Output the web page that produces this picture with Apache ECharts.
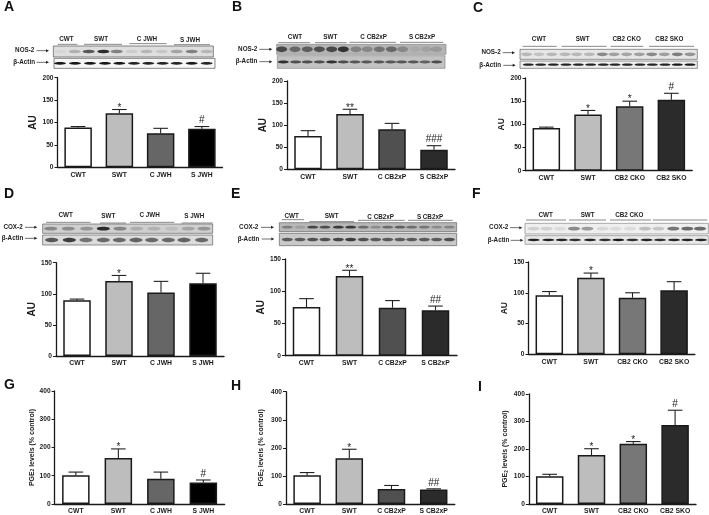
<!DOCTYPE html>
<html><head><meta charset="utf-8">
<style>html,body{margin:0;padding:0;background:#fff}#c{width:709px;height:515px;filter:blur(0.5px)}</style>
<script src="https://cdn.jsdelivr.net/npm/echarts@6/dist/echarts.min.js"></script>
</head><body><div id="c"></div>
<script>
const catsJWH=["CWT","SWT","C JWH","S JWH"];
const catsCB2xP=["CWT","SWT","C CB2xP","S CB2xP"];
const catsCB2=["CWT","SWT","CB2 CKO","CB2 SKO"];

const valuesA=[89,120.5,76,86], capsA=[91,129,87,91], sigA=["","*","","#"];
const valuesB=[75.5,125,90.5,44.5], capsB=[87.5,136,104,53.5], sigB=["","**","","###"];
const valuesC=[92,121,139,153], capsC=[94,130,150,167], sigC=["","*","*","#"];
const valuesD=[89.5,120.5,102,117], capsD=[91.5,129.5,120,133], sigD=["","*","",""];
const valuesE=[75.5,123.5,74.5,70.5], capsE=[88.5,132.5,85.5,77], sigE=["","**","","##"];
const valuesF=[96,124.5,92,104], capsF=[102,132,100,118], sigF=["","*","",""];
const valuesG=[102,163,89,76], capsG=[113,195,113,85], sigG=["","*","","#"];
const valuesH=[102.5,163,53,52], capsH=[112,195,66,54], sigH=["","*","","##"];
const valuesI=[101,178,219,287], capsI=[108,201,227,341], sigI=["","*","*","#"];

const ticks150=150, ticks200=200, ticks400=400;

// blot band strengths, lane by lane
const nosA=[.04,.2,.6,.8,.42,.08,.18,.1,.26,.42,.18];
const actA=[.9,.9,.9,.9,.9,.85,.85,.85,.85,.9,.85];
const nosB=[.6,.42,.48,.55,.6,.72,.28,.25,.36,.42,.25,.06,.1,.14];
const actB=[.75,.6,.6,.6,.75,.6,.55,.55,.55,.55,.55,.55,.5,.6];
const nosC=[.2,.15,.2,.2,.2,.2,.4,.3,.28,.3,.4,.3,.45,.35];
const actC=[.85,.85,.85,.85,.85,.85,.85,.85,.85,.85,.85,.85,.9,.9];
const coxD=[.35,.32,.28,.8,.36,.16,.14,.08,.2,.28];
const actD=[.6,.72,.48,.52,.52,.55,.52,.52,.55,.52];
const coxE=[.32,.14,.62,.58,.68,.68,.42,.24,.42,.48,.4,.36,.24,.28];
const actE=[.55,.55,.6,.6,.65,.7,.6,.55,.55,.55,.55,.55,.55,.6];
const coxF=[.12,.12,.08,.42,.34,.09,.08,.08,.2,.16,.5,.55,.55];
const actF=[.85,.85,.85,.8,.85,.8,.9,.8,.85,.8,.85,.85,.85];

const W="#ffffff",L="#bdbdbd",D1="#666666",K="#000000",D2="#505050",K2="#2b2b2b",M="#777777";
const FONT="'Liberation Sans',Arial,sans-serif";
const panels=[
 {l:"A",lx:4,ly:7,left:57.5,w:165,top:77.7,bot:167.3,max:ticks200,cats:catsJWH,v:valuesA,c:capsA,s:sigA,col:[W,L,D1,K],name:"AU",fs:10,gap:18},
 {l:"B",lx:232,ly:7,left:287,w:168,top:81,bot:169.3,max:ticks200,cats:catsCB2xP,v:valuesB,c:capsB,s:sigB,col:[W,L,D2,K2],name:"AU",fs:10,gap:19},
 {l:"C",lx:473,ly:8,left:525.5,w:166.7,top:78,bot:170.7,max:ticks200,cats:catsCB2,v:valuesC,c:capsC,s:sigC,col:[W,L,M,K2],name:"AU",fs:8.5,gap:18},
 {l:"D",lx:4,ly:194,left:56,w:168,top:262.7,bot:356,max:ticks150,cats:catsJWH,v:valuesD,c:capsD,s:sigD,col:[W,L,D1,K],name:"AU",fs:10,gap:18},
 {l:"E",lx:231,ly:194,left:285,w:172,top:259,bot:355.7,max:ticks150,cats:catsCB2xP,v:valuesE,c:capsE,s:sigE,col:[W,L,D2,K2],name:"AU",fs:10,gap:18},
 {l:"F",lx:472,ly:194,left:528.5,w:166.4,top:262,bot:354.3,max:ticks150,cats:catsCB2,v:valuesF,c:capsF,s:sigF,col:[W,L,M,K2],name:"AU",fs:8.5,gap:17},
 {l:"G",lx:4,ly:385,left:54.6,w:170,top:391,bot:504.7,max:ticks400,cats:catsJWH,v:valuesG,c:capsG,s:sigG,col:[W,L,D1,K],pge:1,gap:19},
 {l:"H",lx:231,ly:386,left:286,w:168.8,top:391.7,bot:504.7,max:ticks400,cats:catsCB2xP,v:valuesH,c:capsH,s:sigH,col:[W,L,D2,K2],pge:1,gap:21},
 {l:"I",lx:478,ly:387,left:528.8,w:167.2,top:394,bot:505,max:ticks400,cats:catsCB2,v:valuesI,c:capsI,s:sigI,col:[W,L,M,K2],pge:1,gap:20}
];

// layout of the western-blot strips, in 3x crop units relative to (ox,oy)
const blots=[
 {ox:0,oy:0,prot:"NOS-2",pr:103,py:152,pa:[110,147],ar:105,ay:187,aa:[110,147],
  heads:[["CWT",199,119,173,232,133],["SWT",303,119,252,366,133],["C JWH",441,119,388,500,131],["S JWH",570,122,522,630,134]],
  s1:[160,138,480,33,"#dedede"],s2:[162,175,483,30,"#f6f6f6"],lanes1:[180,224,266,310,350,395,440,485,530,575,620],lanes2:[180,225,270,315,358,402,445,488,530,575,620],b1:nosA,b2:actA,bh:1.7,aw:6,ah:1.3,sb:"#555"},
 {ox:230,oy:0,prot:"NOS-2",pr:82,py:148,pa:[88,127],ar:82,ay:185,aa:[88,127],
  heads:[["CWT",195,112,145,240,128],["SWT",301,112,255,350,128],["C CB2xP",431,112,358,498,127],["S CB2xP",576,112,510,640,127]],
  s1:[140,133,508,30,"#b4b4b4"],s2:[142,167,503,38,"#c2c2c2"],lanes1:[155,195,232,268,305,340,378,412,448,484,518,555,590,620],lanes2:[160,197,232,268,305,340,375,410,447,482,515,550,585,620],b1:nosB,b2:actB,bh:2.8,aw:5.5,ah:1.4,sb:"#888"},
 {ox:470,oy:0,prot:"NOS-2",pr:92,py:158,pa:[98,135],ar:93,ay:196,aa:[100,137],
  heads:[["CWT",207,117,158,260,139],["SWT",338,117,275,410,139],["CB2 CKO",470,117,422,520,139],["CB2 SKO",598,117,537,672,139]],
  s1:[150,148,532,30,"#e6e6e6"],s2:[150,183,532,22,"#eeeeee"],lanes1:[170,207,245,285,320,358,397,432,470,508,545,583,622,660],lanes2:[175,212,250,288,325,362,400,435,472,510,547,585,622,660],b1:nosC,b2:actC,bh:1.8,aw:5.5,ah:1.1,sb:"#666"},
 {ox:0,oy:185,prot:"COX-2",pr:68,py:127,pa:[75,112],ar:70,ay:160,aa:[75,112],
  heads:[["CWT",197,92,138,272,112],["SWT",325,94,300,378,114],["C JWH",449,92,390,523,112],["S JWH",583,94,545,638,114]],
  s1:[128,117,510,28,"#cfcfcf"],s2:[128,150,510,30,"#dcdcdc"],lanes1:[152,205,260,310,360,410,462,515,565,612],lanes2:[155,208,258,310,358,408,455,505,552,605],b1:coxD,b2:actD,bh:1.8,aw:6.5,ah:2.2,sb:"#666"},
 {ox:230,oy:185,prot:"COX-2",pr:85,py:127,pa:[93,132],ar:88,ay:162,aa:[95,133],
  heads:[["CWT",185,95,155,222,104],["SWT",305,95,238,372,110],["C CB2xP",452,96,384,524,106],["S CB2xP",600,96,534,668,106]],
  s1:[148,113,532,27,"#b8b8b8"],s2:[148,145,532,37,"#c9c9c9"],lanes1:[172,210,248,285,325,362,400,437,473,510,545,583,620,658],lanes2:[172,210,248,285,325,362,400,437,473,510,545,583,620,658],b1:coxE,b2:actE,bh:1.4,aw:5.5,ah:1.8,sb:"#666"},
 {ox:470,oy:185,prot:"COX-2",pr:115,py:128,pa:[120,157],ar:118,ay:166,aa:[122,160],
  heads:[["CWT",227,92,168,288,105],["SWT",353,92,297,408,105],["CB2 CKO",478,92,420,543,105],["",0,0,548,712,105]],
  s1:[165,115,550,32,"#efefef"],s2:[165,152,550,26,"#e8e8e8"],lanes1:[191,230,270,312,352,398,437,480,525,565,610,652,690],lanes2:[191,235,275,315,360,405,445,487,530,570,612,652,693],b1:coxF,b2:actF,bh:1.8,aw:6,ah:1.2,sb:"#888"}
];

function blotGraphics(b){
 const X=v=>b.ox+v/3,Y=v=>b.oy+v/3,out=[];
 const text=(t,x,y,align)=>out.push({type:"text",silent:true,style:{text:t,x,y,align,verticalAlign:"middle",fill:"#222",font:"bold 6.3px "+FONT}});
 const arrow=(a,y)=>{
  out.push({type:"line",silent:true,shape:{x1:X(a[0]),y1:y,x2:X(a[1])-2,y2:y},style:{stroke:"#333",lineWidth:.7}});
  out.push({type:"polygon",silent:true,shape:{points:[[X(a[1]),y],[X(a[1])-3,y-1.5],[X(a[1])-3,y+1.5]]},style:{fill:"#222"}});
 };
 b.heads.forEach(h=>{
  if(h[0])text(h[0],X(h[1]),Y(h[2]),"center");
  out.push({type:"line",silent:true,shape:{x1:X(h[3]),y1:Y(h[5]),x2:X(h[4]),y2:Y(h[5])},style:{stroke:"#555",lineWidth:.7}});
 });
 text(b.prot,X(b.pr),Y(b.py),"right");arrow(b.pa,Y(b.py));
 text("\u03b2-Actin",X(b.ar),Y(b.ay),"right");arrow(b.aa,Y(b.ay));
 [[b.s1,b.lanes1,b.b1,b.bh],[b.s2,b.lanes2,b.b2,b.ah]].forEach(([s,lanes,amp,h])=>{
  out.push({type:"rect",silent:true,shape:{x:X(s[0]),y:Y(s[1]),width:s[2]/3,height:s[3]/3},style:{fill:s[4],stroke:b.sb,lineWidth:.7}});
  lanes.forEach((lx,i)=>out.push({type:"ellipse",silent:true,shape:{cx:X(lx),cy:Y(s[1]+s[3]/2),rx:b.aw,ry:h},style:{fill:"rgba(0,0,0,"+amp[i]+")"}}));
 });
 return out;
}

const grid=[],xAxis=[],yAxis=[],series=[],graphic=[];
panels.forEach((p,i)=>{
 grid.push({left:p.left,width:p.w,top:p.top,height:p.bot-p.top,containLabel:false});
 xAxis.push({type:"category",gridIndex:i,data:p.cats,axisTick:{show:false},
  axisLine:{lineStyle:{color:"#1a1a1a",width:1.3}},
  axisLabel:{color:"#1a1a1a",fontFamily:FONT,fontWeight:"bold",fontSize:6.8,margin:4,interval:0}});
 yAxis.push({type:"value",gridIndex:i,min:0,max:p.max,interval:p.max/(p.max===150?3:4),splitLine:{show:false},
  axisLine:{show:true,lineStyle:{color:"#1a1a1a",width:1.3}},axisTick:{show:true,length:3,lineStyle:{color:"#1a1a1a",width:1}},
  axisLabel:{color:"#1a1a1a",fontFamily:FONT,fontWeight:"bold",fontSize:6.6,margin:4},
  name:p.pge?"PGE{s|2} levels (% control)":p.name,nameLocation:"middle",nameGap:p.gap,nameRotate:90,
  nameTextStyle:p.pge?{color:"#222",fontFamily:FONT,fontWeight:"bold",fontSize:7,rich:{s:{fontFamily:FONT,fontSize:4.5,fontWeight:"bold",verticalAlign:"bottom",color:"#222"}}}
   :{color:"#1a1a1a",fontFamily:FONT,fontWeight:"bold",fontSize:p.fs}});
 series.push({type:"bar",xAxisIndex:i,yAxisIndex:i,barWidth:27.5,animation:false,z:2,
  data:p.v.map((v,j)=>({value:v,itemStyle:{color:p.col[j],borderColor:"#1a1a1a",borderWidth:1.5}}))});
 series.push({type:"custom",xAxisIndex:i,yAxisIndex:i,animation:false,z:3,silent:true,
  encode:{x:0,y:[1,2]},
  data:p.v.map((v,j)=>[j,v,p.c[j]]),
  renderItem(params,api){
   const a=api.coord([api.value(0),api.value(1)]),b=api.coord([api.value(0),api.value(2)]);
   const st={stroke:"#222",lineWidth:1.1};
   const ch=[{type:"line",shape:{x1:a[0],y1:a[1],x2:b[0],y2:b[1]},style:st},
             {type:"line",shape:{x1:b[0]-7.3,y1:b[1],x2:b[0]+7.3,y2:b[1]},style:st}];
   const s=p.s[params.dataIndex];
   if(s)ch.push({type:"text",style:{text:s,x:b[0],y:b[1]-(s[0]==="#"?1:-3.5),align:"center",verticalAlign:"bottom",fill:"#222",font:"10px "+FONT}});
   return {type:"group",children:ch};
  }});
 graphic.push({type:"text",silent:true,style:{text:p.l,x:p.lx,y:p.ly,verticalAlign:"middle",fill:"#111",font:"bold 14px "+FONT}});
});
blots.forEach(b=>graphic.push(...blotGraphics(b)));

const chart=echarts.init(document.getElementById("c"),null,{renderer:"canvas"});
chart.setOption({animation:false,backgroundColor:"#fff",grid,xAxis,yAxis,series,graphic:{elements:graphic}});
</script></body></html>
